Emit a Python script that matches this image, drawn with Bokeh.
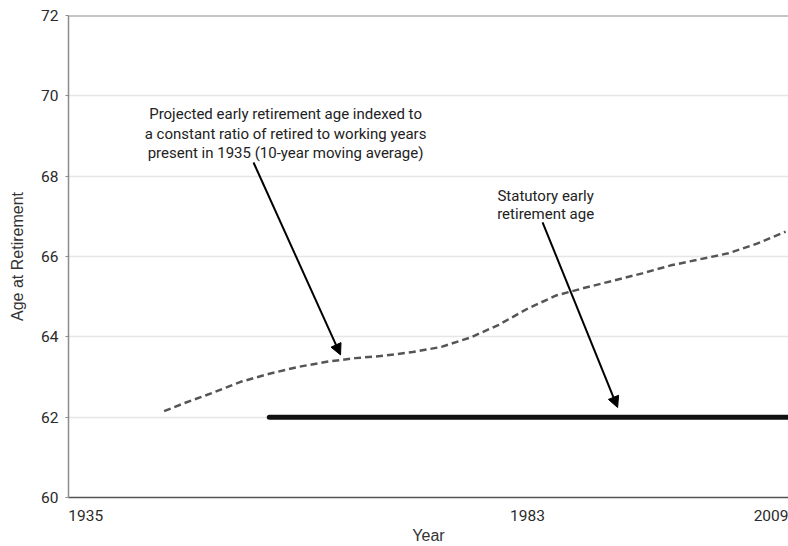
from bokeh.plotting import figure
from bokeh.models import Range1d, FixedTicker, Label, Arrow, NormalHead, Span
from bokeh.embed import file_html
from bokeh.resources import INLINE

# Projected early retirement age (10-year moving average)
proj_years = [1945, 1947, 1950, 1953, 1956, 1959, 1962, 1965, 1968, 1971, 1974, 1977,
              1980, 1983, 1986, 1989, 1992, 1995, 1998, 2001, 2004, 2007, 2010]
proj_ages = [62.15, 62.34, 62.6, 62.88, 63.08, 63.25, 63.38, 63.47, 63.53, 63.62, 63.75, 63.98,
             64.3, 64.7, 65.03, 65.22, 65.4, 65.58, 65.78, 65.93, 66.08, 66.32, 66.62]

# Statutory early retirement age
stat_years = [1956, 2011]
stat_ages = [62, 62]

y_ticks = [60, 62, 64, 66, 68, 70, 72]
x_tick_labels = {1936.8: "1935", 1983: "1983", 2009: "2009"}

FONT = "Roboto"
TITLE_FONT = "Liberation Sans"

p = figure(width=788, height=546, output_backend="svg", toolbar_location=None,
           x_range=Range1d(1935, 2010.3), y_range=Range1d(60, 72),
           min_border_left=68, min_border_right=0, min_border_top=15, min_border_bottom=49)
p.outline_line_color = None
p.background_fill_color = "white"

# grid
p.xgrid.grid_line_color = None
p.ygrid.grid_line_color = "#e6e6e6"
p.ygrid.grid_line_width = 1.5

# y axis
p.yaxis.ticker = FixedTicker(ticks=y_ticks)
p.yaxis.axis_line_color = "#8c8c8c"
p.yaxis.axis_line_width = 1.5
p.yaxis.major_tick_line_color = "#8c8c8c"
p.yaxis.major_tick_out = 3
p.yaxis.major_tick_in = 0
p.yaxis.minor_tick_line_color = None
p.yaxis.major_label_text_font = FONT
p.yaxis.major_label_text_font_size = "15.5px"
p.yaxis.major_label_text_color = "#2a2a2a"
p.yaxis.major_label_standoff = 7
p.yaxis.axis_label = "Age at Retirement"
p.yaxis.axis_label_text_font = TITLE_FONT
p.yaxis.axis_label_text_font_size = "16px"
p.yaxis.axis_label_text_font_style = "normal"
p.yaxis.axis_label_text_color = "#333333"
p.yaxis.axis_label_standoff = 12

# x axis
p.xaxis.ticker = FixedTicker(ticks=list(x_tick_labels.keys()))
p.xaxis.major_label_overrides = x_tick_labels
p.xaxis.axis_line_color = "#555555"
p.xaxis.axis_line_width = 1.5
p.xaxis.major_tick_line_color = None
p.xaxis.minor_tick_line_color = None
p.xaxis.major_label_text_font = FONT
p.xaxis.major_label_text_font_size = "15.5px"
p.xaxis.major_label_text_color = "#2a2a2a"
p.xaxis.major_label_standoff = 6
p.xaxis.axis_label = "Year"
p.xaxis.axis_label_text_font = TITLE_FONT
p.xaxis.axis_label_text_font_size = "16px"
p.xaxis.axis_label_text_font_style = "normal"
p.xaxis.axis_label_text_color = "#333333"
p.xaxis.axis_label_standoff = 3

# top border line
p.add_layout(Span(location=72, dimension="width", line_color="#8c8c8c", line_width=2))

# series
p.line(proj_years, proj_ages, line_color="#555555", line_width=2.5, line_dash="7 4")
p.line(stat_years, stat_ages, line_color="#111111", line_width=5, line_cap="round")

# annotations
label1_pos = (1957.7, 69.06)
label2_pos = (1984.9, 67.29)
arrow1 = (1954.35, 68.34, 1963.45, 63.55)
arrow2 = (1984.58, 66.85, 1992.43, 62.24)

p.add_layout(Label(x=label1_pos[0], y=label1_pos[1],
                   text="Projected early retirement age indexed to\na constant ratio of retired to working years\npresent in 1935 (10-year moving average)",
                   text_align="center", text_baseline="middle", text_font=FONT,
                   text_font_size="15px", text_color="#222222", text_line_height=1.1))
p.add_layout(Label(x=label2_pos[0], y=label2_pos[1],
                   text="Statutory early\nretirement age",
                   text_align="center", text_baseline="middle", text_font=FONT,
                   text_font_size="15px", text_color="#222222", text_line_height=1.0))

for (x0, y0, x1, y1) in (arrow1, arrow2):
    p.add_layout(Arrow(x_start=x0, y_start=y0, x_end=x1, y_end=y1,
                       line_color="black", line_width=2,
                       end=NormalHead(size=11, fill_color="black", line_color="black")))

open("out.html", "w").write(file_html(p, INLINE))
